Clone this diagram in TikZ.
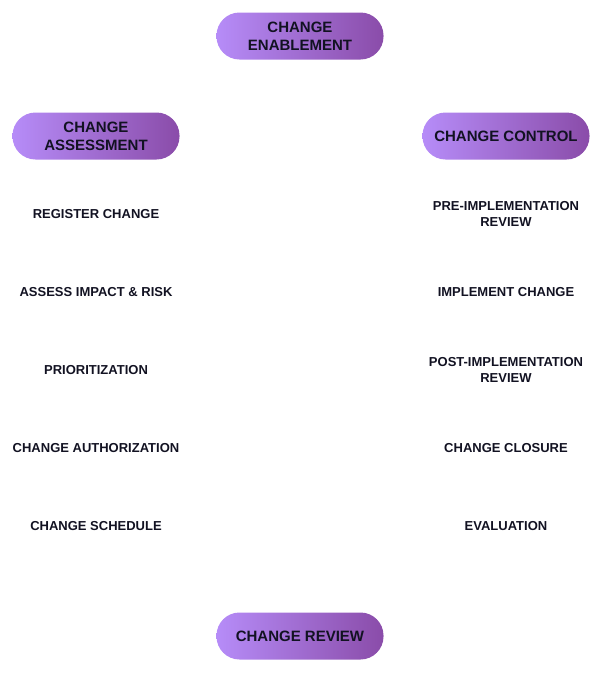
\documentclass[tikz,border=0pt]{standalone}
\usepackage{fontspec}
\setmainfont{Liberation Sans}
\usepackage{xcolor}
\usepackage{tikz}
\usetikzlibrary{
  calc,
  shapes
}
\definecolor{pillleft}{HTML}{B68CF8}
\definecolor{pillright}{HTML}{8A4CA9}
\definecolor{inkdark}{HTML}{121222}
\tikzset{
  pill/.style={
    rectangle,
    rounded corners=23pt,
    minimum width=167pt,
    minimum height=47pt,
    left color=pillleft,
    right color=pillright,
    text=inkdark,
    align=center,
    font=\fontsize{15pt}{18pt}\selectfont\bfseries},
  task/.style={
    text=inkdark,
    align=center,
    inner sep=0pt,
    font=\fontsize{13pt}{16pt}\selectfont\bfseries}
  }
\begin{document}
\begin{tikzpicture}[x=1pt,y=-1pt]
    \useasboundingbox (0,0) rectangle (604,673);
    \node[pill] (enable) at (300,36) {CHANGE\\ENABLEMENT};
    \node[pill] (assess) at (96,136) {CHANGE\\ASSESSMENT};
    \node[pill] (control) at (506,136) {CHANGE CONTROL};
    \node[pill] (review) at (300,636) {CHANGE REVIEW};
    % left column
    \node[task] (register) at (96,214) {REGISTER CHANGE};
    \node[task] (impact) at (96,292) {ASSESS IMPACT \& RISK};
    \node[task] (prio) at (96,370) {PRIORITIZATION};
    \node[task] (auth) at (96,448) {CHANGE AUTHORIZATION};
    \node[task] (sched) at (96,526) {CHANGE SCHEDULE};
    % right column
    \node[task] (prerev) at (506,214) {PRE-IMPLEMENTATION\\REVIEW};
    \node[task] (implement) at (506,292) {IMPLEMENT CHANGE};
    \node[task] (postrev) at (506,370) {POST-IMPLEMENTATION\\REVIEW};
    \node[task] (closure) at (506,448) {CHANGE CLOSURE};
    \node[task] (evaluate) at (506,526) {EVALUATION};
  \end{tikzpicture}
\end{document}
